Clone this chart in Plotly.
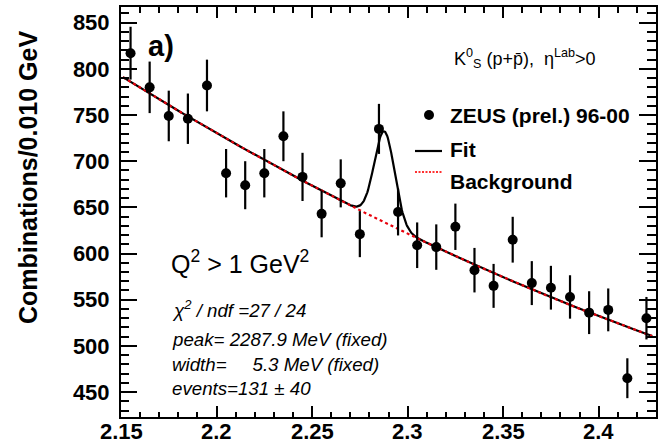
import numpy as np
import plotly.graph_objects as go

# Invariant-mass bins (GeV) and candidate counts per 10 MeV bin
mass = [2.155, 2.165, 2.175, 2.185, 2.195, 2.205, 2.215, 2.225, 2.235, 2.245,
        2.255, 2.265, 2.275, 2.285, 2.295, 2.305, 2.315, 2.325, 2.335, 2.345,
        2.355, 2.365, 2.375, 2.385, 2.395, 2.405, 2.415, 2.425]
counts = [817, 780, 749, 746, 782, 687, 674, 687, 727, 683,
          643, 676, 621, 735, 645, 609, 607, 629, 582, 565,
          615, 568, 563, 553, 536, 539, 465, 530]
errors = [28.6, 27.9, 27.4, 27.3, 28.0, 26.2, 26.0, 26.2, 27.0, 26.1,
          25.4, 26.0, 24.9, 27.1, 25.4, 24.7, 24.6, 25.1, 24.1, 23.8,
          24.8, 23.8, 23.7, 23.5, 23.2, 23.2, 21.6, 23.0]

# Fit parameters: quadratic background around M0 plus a Gaussian signal
BG_M0 = 2.29
BG_COEFFS = [631.5, -1011.0, 982.0]
PEAK_MEV = 2287.9
WIDTH_MEV = 5.3
EVENTS = 131
BIN_GEV = 0.010
FIT_RANGE = [2.151, 2.428]

x_ticks = [2.15, 2.2, 2.25, 2.3, 2.35, 2.4]
x_ticklabels = ["2.15", "2.2", "2.25", "2.3", "2.35", "2.4"]
y_ticks = [450, 500, 550, 600, 650, 700, 750, 800, 850]

m = np.linspace(FIT_RANGE[0], FIT_RANGE[1], 800)
t = m - BG_M0
background = BG_COEFFS[0] + BG_COEFFS[1] * t + BG_COEFFS[2] * t ** 2
mu, sigma = PEAK_MEV / 1000.0, WIDTH_MEV / 1000.0
amp = EVENTS * BIN_GEV / (sigma * np.sqrt(2 * np.pi))
fit = background + amp * np.exp(-0.5 * ((m - mu) / sigma) ** 2)

FONT = "Liberation Sans"

# plot-area geometry in pixels (for placing annotations)
W, H = 664, 442
L, R, T, B = 121, 656, 7, 417


def px(xp):
    return (xp - L) / (R - L)


def py(yp):
    return (B - yp) / (B - T)


fig = go.Figure()

fig.add_trace(go.Scatter(x=m, y=fit, mode="lines",
                         line=dict(color="black", width=2.2),
                         hoverinfo="skip", showlegend=False))
fig.add_trace(go.Scatter(x=m, y=background, mode="lines",
                         line=dict(color="#e8000b", width=2.2, dash="3px,3px"),
                         hoverinfo="skip", showlegend=False))
fig.add_trace(go.Scatter(x=mass, y=counts, mode="markers",
                         marker=dict(color="black", size=10),
                         error_y=dict(type="data", array=errors, color="black",
                                      thickness=2.2, width=0),
                         showlegend=False))
# empty trace so the mirrored top/right axes get drawn
fig.add_trace(go.Scatter(x=[None], y=[None], xaxis="x2", yaxis="y2",
                         showlegend=False, hoverinfo="skip"))

axis_common = dict(showgrid=False, zeroline=False, ticks="inside",
                   tickcolor="black", tickwidth=1.5, showline=True,
                   linecolor="black", linewidth=2, automargin=False)

fig.update_layout(
    width=W, height=H, autosize=False,
    margin=dict(l=L, r=W - R, t=T, b=H - B, pad=0),
    paper_bgcolor="white", plot_bgcolor="white",
    xaxis=dict(range=[2.15, 2.43], tickvals=x_ticks, ticklen=11,
               showticklabels=False,
               minor=dict(ticks="inside", dtick=0.01, tick0=2.15, ticklen=5.5,
                          tickwidth=1.5, tickcolor="black"),
               **axis_common),
    yaxis=dict(range=[423, 867], tickvals=y_ticks, ticklen=16,
               minor=dict(ticks="inside", dtick=10, tick0=450, ticklen=8,
                          tickwidth=1.5, tickcolor="black"),
               tickfont=dict(family=FONT, size=22, weight="bold", color="black"),
               ticklabelstandoff=5, **axis_common),
    xaxis2=dict(range=[2.15, 2.43], overlaying="x", side="top", anchor="y",
                tickvals=x_ticks, ticklen=11, showticklabels=False,
                minor=dict(ticks="inside", dtick=0.01, tick0=2.15, ticklen=5.5,
                           tickwidth=1.5, tickcolor="black"),
                **axis_common),
    yaxis2=dict(range=[423, 867], overlaying="y", side="right", anchor="x",
                tickvals=y_ticks, ticklen=17, showticklabels=False,
                minor=dict(ticks="inside", dtick=10, tick0=450, ticklen=9,
                           tickwidth=1.5, tickcolor="black"),
                **axis_common),
)

# mass-axis tick labels, placed on the x scale just below the frame
for v, lab in zip(x_ticks, x_ticklabels):
    fig.add_annotation(text=lab, x=v, xref="x", y=py(431), yref="paper",
                       xanchor="center", yanchor="middle", showarrow=False,
                       font=dict(family=FONT, size=22, color="black", weight="bold"))


def text(s, x, y, size, xanchor="left", weight="normal", style="normal", angle=0):
    fig.add_annotation(text=s, x=px(x), y=py(y), xref="paper", yref="paper",
                       xanchor=xanchor, yanchor="middle", showarrow=False,
                       textangle=angle,
                       font=dict(family=FONT, size=size, color="black",
                                 weight=weight, style=style))


# axis title
text("Combinations/0.010 GeV", 28, 178, 25, xanchor="center", weight="bold", angle=-90)

text("a)", 146, 46, 29, weight="bold")
text("K<sup>0</sup><sub>S</sub> (p+p\u0304),  \u03b7<sup>Lab</sup>>0", 452, 58, 18)

# legend
fig.add_shape(type="circle", xref="paper", yref="paper",
              xsizemode="pixel", ysizemode="pixel",
              xanchor=px(429), yanchor=py(115), x0=-5, x1=5, y0=-5, y1=5,
              fillcolor="black", line=dict(color="black", width=0))
text("ZEUS (prel.) 96-00", 448, 115, 21, weight="bold")
fig.add_shape(type="line", xref="paper", yref="paper",
              x0=px(415), x1=px(442), y0=py(151), y1=py(151),
              line=dict(color="black", width=2.2))
text("Fit", 448, 149, 21, weight="bold")
fig.add_shape(type="line", xref="paper", yref="paper",
              x0=px(415), x1=px(442), y0=py(172), y1=py(172),
              line=dict(color="#ff3030", width=2.2, dash="2px,1.5px"))
text("Background", 448, 181, 21, weight="bold")

text("Q<sup>2</sup> > 1 GeV<sup>2</sup>", 169, 262, 25)

text("\u03c7<sup>2</sup> / ndf =27 / 24", 170, 309, 18.7, style="italic")
text("peak= 2287.9 MeV (fixed)", 170, 339, 18.7, style="italic")
text("width=\u00a0\u00a0\u00a0\u00a0 5.3 MeV (fixed)", 170, 364, 18.7, style="italic")
text("events=131 \u00b1 40", 170, 388, 18.7, style="italic")

fig.write_html("out.html")
